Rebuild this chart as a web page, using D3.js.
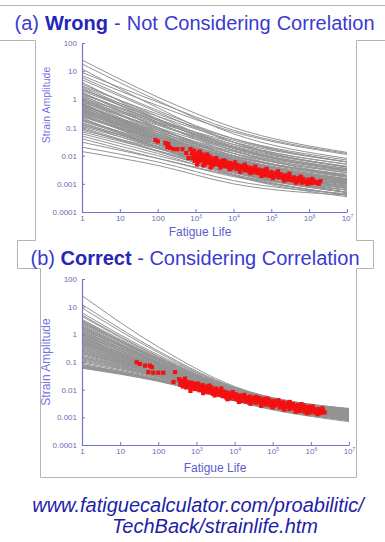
<!DOCTYPE html>
<html>
<head>
<meta charset="utf-8">
<script src="https://cdn.jsdelivr.net/npm/d3@7"></script>
<style>
  body { margin: 0; background: #fff; }
  svg { display: block; }
  text { font-family: "Liberation Sans", Arial, sans-serif; }
</style>
</head>
<body>
<svg id="chart" width="385" height="542"></svg>
<script>
// axis ticks
const xTicks = [1, 10, 100, 1e3, 1e4, 1e5, 1e6, 1e7];
const xTickBase = ['1', '10', '100', '10', '10', '10', '10', '10'];
const xTickExp = ['', '', '', '3', '4', '5', '6', '7'];
const yTicks = [100, 10, 1, 0.1, 0.01, 0.001, 0.0001];
const yTickLabels = ['100', '10', '1', '0.1', '0.01', '0.001', '0.0001'];

// each simulated curve: strain amplitude at these lives
const curveLives = [1, 100, 1e4, 1e7];

const wrongCurves = [
  [25, 1.2, 0.1, 0.013], [18, 0.9, 0.06, 0.008], [12, 0.5, 0.03, 0.004], [9, 0.8, 0.08, 0.012],
  [7, 0.6, 0.07, 0.011], [6, 0.4, 0.04, 0.006], [5, 0.35, 0.03, 0.005], [4, 0.2, 0.015, 0.002],
  [3.5, 0.25, 0.02, 0.003], [3, 0.3, 0.04, 0.007], [2.8, 0.2, 0.02, 0.0035], [2.5, 0.15, 0.012, 0.0018],
  [2.4, 0.18, 0.018, 0.003], [2.2, 0.25, 0.035, 0.006], [2, 0.2, 0.025, 0.004], [1.8, 0.1, 0.008, 0.0012],
  [1.7, 0.16, 0.022, 0.0042], [1.6, 0.14, 0.015, 0.0025], [1.5, 0.18, 0.03, 0.006], [1.4, 0.1, 0.009, 0.0015],
  [1.3, 0.13, 0.02, 0.004], [1.2, 0.08, 0.007, 0.0011], [1.1, 0.15, 0.025, 0.005], [1.05, 0.07, 0.005, 0.0008],
  [1, 0.12, 0.018, 0.0035], [0.95, 0.09, 0.01, 0.0018], [0.9, 0.06, 0.006, 0.001], [0.85, 0.1, 0.016, 0.0032],
  [0.8, 0.09, 0.012, 0.0025], [0.75, 0.06, 0.007, 0.0013], [0.72, 0.045, 0.0045, 0.0008], [0.7, 0.05, 0.005, 0.0009],
  [0.68, 0.055, 0.0065, 0.0012], [0.65, 0.07, 0.01, 0.0019], [0.62, 0.06, 0.008, 0.0015], [0.6, 0.08, 0.014, 0.003],
  [0.58, 0.045, 0.0055, 0.001], [0.55, 0.05, 0.006, 0.0011], [0.52, 0.07, 0.012, 0.0028], [0.5, 0.04, 0.004, 0.0007],
  [0.48, 0.035, 0.003, 0.0005], [0.45, 0.06, 0.01, 0.002], [0.43, 0.05, 0.0075, 0.0015], [0.42, 0.045, 0.008, 0.0017],
  [0.4, 0.035, 0.0045, 0.0008], [0.38, 0.04, 0.006, 0.0012], [0.36, 0.03, 0.003, 0.0005], [0.35, 0.05, 0.009, 0.0022],
  [0.33, 0.04, 0.0065, 0.0014], [0.32, 0.025, 0.0028, 0.0005], [0.3, 0.03, 0.0035, 0.0006], [0.28, 0.035, 0.005, 0.001],
  [0.26, 0.028, 0.0035, 0.0007], [0.25, 0.04, 0.007, 0.0015], [0.24, 0.035, 0.006, 0.0013], [0.22, 0.02, 0.002, 0.00035],
  [0.2, 0.025, 0.003, 0.0005], [0.19, 0.02, 0.0025, 0.0005], [0.18, 0.03, 0.006, 0.0014], [0.17, 0.025, 0.0045, 0.001],
  [0.15, 0.02, 0.0028, 0.0005], [0.14, 0.022, 0.004, 0.0009], [0.13, 0.018, 0.003, 0.0007], [0.12, 0.025, 0.005, 0.0012],
  [0.11, 0.02, 0.0035, 0.0008], [0.1, 0.015, 0.0022, 0.0004], [0.09, 0.014, 0.0025, 0.0006], [0.08, 0.018, 0.004, 0.001],
  [0.07, 0.015, 0.003, 0.0008], [0.06, 0.012, 0.002, 0.0004], [0.05, 0.01, 0.0025, 0.0007], [0.04, 0.008, 0.0018, 0.0004],
  [0.03, 0.008, 0.002, 0.0006], [0.02, 0.006, 0.0013, 0.00045], [0.014, 0.0045, 0.001, 0.0004]
];

const correctCurves = [
  [25, 0.35, 0.013, 0.0021], [12, 0.25, 0.012, 0.002], [9, 0.22, 0.011, 0.0019], [6, 0.18, 0.012, 0.002],
  [5, 0.16, 0.011, 0.0018], [4.5, 0.15, 0.01, 0.0017], [3.5, 0.14, 0.011, 0.0019], [3.2, 0.13, 0.0095, 0.0016],
  [3, 0.12, 0.009, 0.0015], [2.8, 0.12, 0.0095, 0.0016], [2.6, 0.13, 0.01, 0.0018], [2.4, 0.115, 0.009, 0.0016],
  [2.2, 0.1, 0.008, 0.0014], [2, 0.11, 0.0095, 0.0017], [1.9, 0.1, 0.0085, 0.0015], [1.8, 0.095, 0.0078, 0.0013],
  [1.7, 0.09, 0.007, 0.0012], [1.6, 0.095, 0.0085, 0.0015], [1.5, 0.1, 0.009, 0.0016], [1.4, 0.085, 0.0075, 0.0013],
  [1.3, 0.08, 0.0065, 0.0011], [1.25, 0.082, 0.0078, 0.0014], [1.2, 0.09, 0.0085, 0.0016], [1.1, 0.085, 0.008, 0.0015],
  [1.05, 0.075, 0.007, 0.0012], [1, 0.07, 0.006, 0.001], [0.95, 0.072, 0.0068, 0.0012], [0.9, 0.075, 0.0075, 0.0014],
  [0.85, 0.06, 0.006, 0.0011], [0.8, 0.065, 0.0055, 0.0009], [0.75, 0.063, 0.0062, 0.0011], [0.7, 0.07, 0.007, 0.0013],
  [0.68, 0.058, 0.0058, 0.001], [0.65, 0.06, 0.006, 0.0011], [0.6, 0.055, 0.005, 0.0009], [0.58, 0.056, 0.0056, 0.001],
  [0.55, 0.06, 0.0065, 0.0012], [0.52, 0.052, 0.0053, 0.00095], [0.5, 0.05, 0.0048, 0.0008], [0.48, 0.05, 0.0052, 0.00095],
  [0.45, 0.055, 0.006, 0.0011], [0.43, 0.048, 0.005, 0.0009], [0.4, 0.045, 0.0045, 0.0008], [0.38, 0.042, 0.005, 0.0009],
  [0.35, 0.05, 0.0058, 0.0011], [0.33, 0.043, 0.0048, 0.0009], [0.3, 0.04, 0.0042, 0.00075], [0.29, 0.042, 0.0047, 0.00088],
  [0.27, 0.045, 0.0055, 0.001], [0.25, 0.04, 0.0046, 0.00087], [0.24, 0.038, 0.004, 0.0007], [0.22, 0.037, 0.0045, 0.00085],
  [0.21, 0.04, 0.005, 0.001], [0.2, 0.036, 0.0044, 0.00083], [0.18, 0.035, 0.0042, 0.0008], [0.16, 0.036, 0.0048, 0.0009],
  [0.15, 0.033, 0.0043, 0.00082], [0.14, 0.032, 0.004, 0.0008], [0.13, 0.031, 0.0043, 0.00085], [0.12, 0.03, 0.0045, 0.0009],
  [0.11, 0.029, 0.0042, 0.00085], [0.1, 0.028, 0.004, 0.0008], [0.09, 0.026, 0.0041, 0.00082], [0.08, 0.024, 0.0042, 0.0009],
  [0.078, 0.024, 0.0043, 0.00088], [0.075, 0.023, 0.0048, 0.001], [0.07, 0.022, 0.004, 0.0008], [0.068, 0.022, 0.0044, 0.0009],
  [0.065, 0.021, 0.0045, 0.001], [0.062, 0.021, 0.0043, 0.0009], [0.06, 0.02, 0.0042, 0.0009]
];

// test data: [cycles to failure, strain amplitude]
const wrongTests = [
  [87, 0.036], [100, 0.032], [160, 0.028], [190, 0.026], [180, 0.02], [215, 0.019], [260, 0.017], [330, 0.017],
  [450, 0.017], [730, 0.017], [650, 0.0083], [570, 0.0125],
  [800, 0.012], [850, 0.008], [900, 0.015], [900, 0.01], [950, 0.0065], [1000, 0.011], [1050, 0.0085], [1100, 0.007],
  [1100, 0.0048], [1150, 0.0095], [1200, 0.0062], [1200, 0.013], [1300, 0.014], [1300, 0.009], [1350, 0.0075],
  [1400, 0.0105], [1500, 0.0068], [1500, 0.011], [1600, 0.0085], [1600, 0.0045], [1700, 0.0058], [1800, 0.0078],
  [1800, 0.005], [1900, 0.0095], [2000, 0.011], [2000, 0.0065], [2200, 0.0072], [2200, 0.0095], [2300, 0.0055],
  [2500, 0.0085], [2500, 0.0038], [2700, 0.006], [2800, 0.0045], [2900, 0.0068], [3100, 0.005], [3300, 0.0078],
  [3500, 0.0058], [3500, 0.0082], [3800, 0.0066], [4000, 0.0048], [4300, 0.0062], [4500, 0.0038], [4600, 0.0055],
  [5000, 0.0045], [5300, 0.0068], [5700, 0.0052], [6000, 0.0042], [6000, 0.0065], [6500, 0.0058], [7000, 0.0048],
  [7500, 0.004], [8000, 0.0055], [8000, 0.0033], [8500, 0.0044], [9000, 0.0036], [10000, 0.005], [11000, 0.0041],
  [11000, 0.0058], [12000, 0.0034], [13000, 0.0046], [14000, 0.0038], [15000, 0.0032], [15000, 0.0027], [17000, 0.0043],
  [18000, 0.0035], [20000, 0.003], [20000, 0.0048], [22000, 0.004], [24000, 0.0033], [26000, 0.0028], [28000, 0.0037],
  [28000, 0.0024], [30000, 0.0031], [33000, 0.0026], [36000, 0.0034], [38000, 0.0041], [40000, 0.0029], [43000, 0.0024],
  [47000, 0.0032], [50000, 0.0027], [55000, 0.0022], [55000, 0.0019], [60000, 0.003], [65000, 0.0025], [70000, 0.002],
  [75000, 0.0028], [75000, 0.0034], [80000, 0.0023], [90000, 0.0019], [100000, 0.0026], [110000, 0.0021],
  [110000, 0.0016], [120000, 0.0018], [130000, 0.0024], [145000, 0.002], [150000, 0.0028], [160000, 0.0017],
  [175000, 0.0022], [190000, 0.0018], [210000, 0.0015], [220000, 0.0013], [230000, 0.002], [250000, 0.0016],
  [280000, 0.0014], [300000, 0.0019], [300000, 0.0023], [330000, 0.0015], [360000, 0.0013], [400000, 0.0017],
  [440000, 0.0014], [450000, 0.0011], [480000, 0.0012], [520000, 0.0016], [580000, 0.0013], [600000, 0.0018],
  [640000, 0.0011], [700000, 0.0015], [780000, 0.0012], [850000, 0.0011], [900000, 0.001], [950000, 0.0014],
  [1050000, 0.0012], [1150000, 0.00105], [1200000, 0.0015], [1300000, 0.0013], [1450000, 0.0011], [1600000, 0.00115],
  [1800000, 0.001], [2000000, 0.00125]
];

const correctTests = [
  [27, 0.098], [33, 0.085], [45, 0.074], [60, 0.074], [68, 0.065], [55, 0.043], [74, 0.041], [100, 0.041],
  [135, 0.041], [275, 0.043], [250, 0.019], [370, 0.021],
  [350, 0.024], [380, 0.015], [410, 0.019], [440, 0.013], [470, 0.021], [500, 0.016], [500, 0.025], [540, 0.012],
  [580, 0.019], [620, 0.014], [660, 0.017], [700, 0.011], [700, 0.009], [750, 0.018], [800, 0.013], [860, 0.016],
  [920, 0.0105], [980, 0.015], [1000, 0.0165], [1050, 0.012], [1120, 0.0165], [1200, 0.0095], [1280, 0.013],
  [1370, 0.011], [1460, 0.0145], [1500, 0.0075], [1560, 0.0085], [1670, 0.012], [1780, 0.0098], [1900, 0.013],
  [2030, 0.008], [2170, 0.011], [2200, 0.014], [2320, 0.009], [2480, 0.012], [2650, 0.0072], [2830, 0.01],
  [3000, 0.0062], [3020, 0.0085], [3250, 0.011], [3500, 0.0072], [3750, 0.0095], [4000, 0.0065], [4300, 0.0088],
  [4500, 0.011], [4600, 0.0075], [4950, 0.0058], [5300, 0.0085], [5700, 0.0068], [6100, 0.0052], [6500, 0.0045],
  [6550, 0.0078], [7000, 0.0062], [7500, 0.0048], [8100, 0.0072], [8700, 0.0057], [9000, 0.0082], [9300, 0.0066],
  [10000, 0.0047], [10700, 0.0068], [11500, 0.0055], [12400, 0.0043], [13000, 0.0036], [13300, 0.0062], [14300, 0.005],
  [15400, 0.0039], [16500, 0.0058], [17700, 0.0046], [18000, 0.0065], [19000, 0.0054], [20400, 0.0037], [22000, 0.005],
  [23600, 0.0042], [25300, 0.0056], [26000, 0.0031], [27200, 0.0035], [29200, 0.0047], [31400, 0.004], [33700, 0.0052],
  [36000, 0.0055], [36200, 0.0034], [38900, 0.0045], [41800, 0.0038], [45000, 0.005], [48300, 0.0031], [50000, 0.0026],
  [52000, 0.0042], [56000, 0.0036], [60000, 0.0046], [64500, 0.0029], [69300, 0.004], [70000, 0.0048], [74500, 0.0033],
  [80000, 0.0043], [86000, 0.0027], [92500, 0.0037], [99400, 0.0031], [100000, 0.0023], [107000, 0.0039],
  [115000, 0.0027], [124000, 0.0034], [133000, 0.0029], [140000, 0.0042], [143000, 0.0037], [154000, 0.0023],
  [165000, 0.0032], [177000, 0.0026], [190000, 0.0035], [200000, 0.0019], [204000, 0.0022], [220000, 0.003],
  [236000, 0.0025], [254000, 0.0033], [273000, 0.002], [280000, 0.0036], [293000, 0.0028], [315000, 0.0023],
  [338000, 0.003], [364000, 0.0021], [391000, 0.0026], [400000, 0.0016], [420000, 0.0018], [452000, 0.0028],
  [486000, 0.0022], [522000, 0.0017], [560000, 0.003], [561000, 0.0025], [603000, 0.002], [648000, 0.0027],
  [697000, 0.0016], [750000, 0.0023], [800000, 0.0014], [806000, 0.0019], [866000, 0.0024], [931000, 0.0015],
  [1000000, 0.0022], [1080000, 0.0017], [1100000, 0.0025], [1160000, 0.0021], [1250000, 0.0015], [1350000, 0.0019],
  [1450000, 0.0016], [1500000, 0.0013], [1560000, 0.002], [1680000, 0.0014], [1800000, 0.0018], [1950000, 0.0015],
  [2000000, 0.0021], [2100000, 0.0017], [2300000, 0.0015]
];

const svg = d3.select('#chart');
const axisColor = '#7272d8';
const tickColor = '#6a6ab8';

function drawPanel(opts) {
  const x = d3.scaleLog().domain([1, 1e7]).range([opts.left, opts.right]);
  const y = d3.scaleLog().domain([1e-4, 100]).range([opts.bottom, opts.top]);
  const g = svg.append('g');

  const line = d3.line()
    .x((d, i) => x(curveLives[i]))
    .y(d => y(d))
    .curve(d3.curveMonotoneX);

  g.append('g')
    .selectAll('path')
    .data(opts.curves)
    .enter()
    .append('path')
    .attr('d', line)
    .attr('fill', 'none')
    .attr('stroke', '#939393')
    .attr('stroke-width', 1);

  g.append('g')
    .selectAll('rect')
    .data(opts.tests)
    .enter()
    .append('rect')
    .attr('x', d => x(d[0]) - 2.1)
    .attr('y', d => y(d[1]) - 2.1)
    .attr('width', 4.2)
    .attr('height', 4.2)
    .attr('fill', '#f41010');

  const yAxis = g.append('g')
    .attr('transform', `translate(${opts.left},0)`)
    .call(d3.axisLeft(y).tickValues(yTicks).tickSize(-3).tickSizeOuter(0).tickPadding(5)
      .tickFormat((d, i) => yTickLabels[i]));

  const xAxis = g.append('g')
    .attr('transform', `translate(0,${opts.bottom})`)
    .call(d3.axisBottom(x).tickValues(xTicks).tickSize(-3).tickSizeOuter(0).tickPadding(3)
      .tickFormat((d, i) => xTickBase[i]));

  xAxis.selectAll('.tick text').each(function (d, i) {
    if (xTickExp[i]) {
      d3.select(this).append('tspan').attr('dy', -3).attr('font-size', 5).text(xTickExp[i]);
    }
  });

  [yAxis, xAxis].forEach(a => {
    a.select('.domain').attr('stroke', axisColor).attr('stroke-width', 1.2);
    a.selectAll('.tick line').attr('stroke', axisColor);
    a.selectAll('.tick text').attr('fill', tickColor).attr('font-size', 8)
      .attr('font-family', '"Liberation Sans", Arial, sans-serif');
  });

  g.append('text')
    .attr('transform', `translate(${opts.yLabelX},${opts.yLabelY}) rotate(-90)`)
    .attr('text-anchor', 'middle')
    .attr('font-size', opts.yLabelSize)
    .attr('fill', '#7474e0')
    .text('Strain Amplitude');

  g.append('text')
    .attr('x', opts.xLabelX)
    .attr('y', opts.xLabelY)
    .attr('text-anchor', 'middle')
    .attr('font-size', 12)
    .attr('fill', '#5c5cd0')
    .text('Fatigue Life');
}

function drawTitle(tag, bold, rest, cx, baseline, wordGap) {
  const t = svg.append('text')
    .attr('x', cx)
    .attr('y', baseline)
    .attr('text-anchor', 'middle')
    .attr('font-size', 20)
    .attr('word-spacing', wordGap)
    .attr('fill', '#3a3ad0');
  t.append('tspan').text(tag + ' ');
  t.append('tspan').attr('font-weight', 'bold').attr('fill', '#2626b8').text(bold);
  t.append('tspan').text(' - ' + rest);
}

drawPanel({
  left: 82, right: 347, top: 43, bottom: 212,
  curves: wrongCurves, tests: wrongTests,
  yLabelX: 50, yLabelY: 105, yLabelSize: 10.5,
  xLabelX: 200, xLabelY: 236
});

// title box (b) covers the bottom of panel (a)
svg.append('rect').attr('x', 17).attr('y', 240).attr('width', 356).attr('height', 28).attr('fill', '#fff');

drawPanel({
  left: 82, right: 349, top: 279, bottom: 445,
  curves: correctCurves, tests: correctTests,
  yLabelX: 50, yLabelY: 362, yLabelSize: 12,
  xLabelX: 215, xLabelY: 472
});

svg.append('path')
  .attr('d', 'M0,5.5H385 M0,40.5H35.5V240.5H17.5V268.5H40.5V477.5H356.5V268.5H373.5V240.5H356.5V40.5H385')
  .attr('fill', 'none')
  .attr('stroke', '#b4b4b4')
  .attr('stroke-width', 1);

drawTitle('(a)', 'Wrong', 'Not Considering Correlation', 194.5, 30, 0.5);
drawTitle('(b)', 'Correct', 'Considering Correlation', 195, 265, 0);

svg.append('text')
  .attr('x', 198).attr('y', 512)
  .attr('text-anchor', 'middle')
  .attr('font-size', 20)
  .attr('font-style', 'italic')
  .attr('fill', '#1e1ea6')
  .text('www.fatiguecalculator.com/proabilitic/');

svg.append('text')
  .attr('x', 215).attr('y', 533)
  .attr('text-anchor', 'middle')
  .attr('font-size', 20)
  .attr('font-style', 'italic')
  .attr('fill', '#1e1ea6')
  .text('TechBack/strainlife.htm');
</script>
</body>
</html>
